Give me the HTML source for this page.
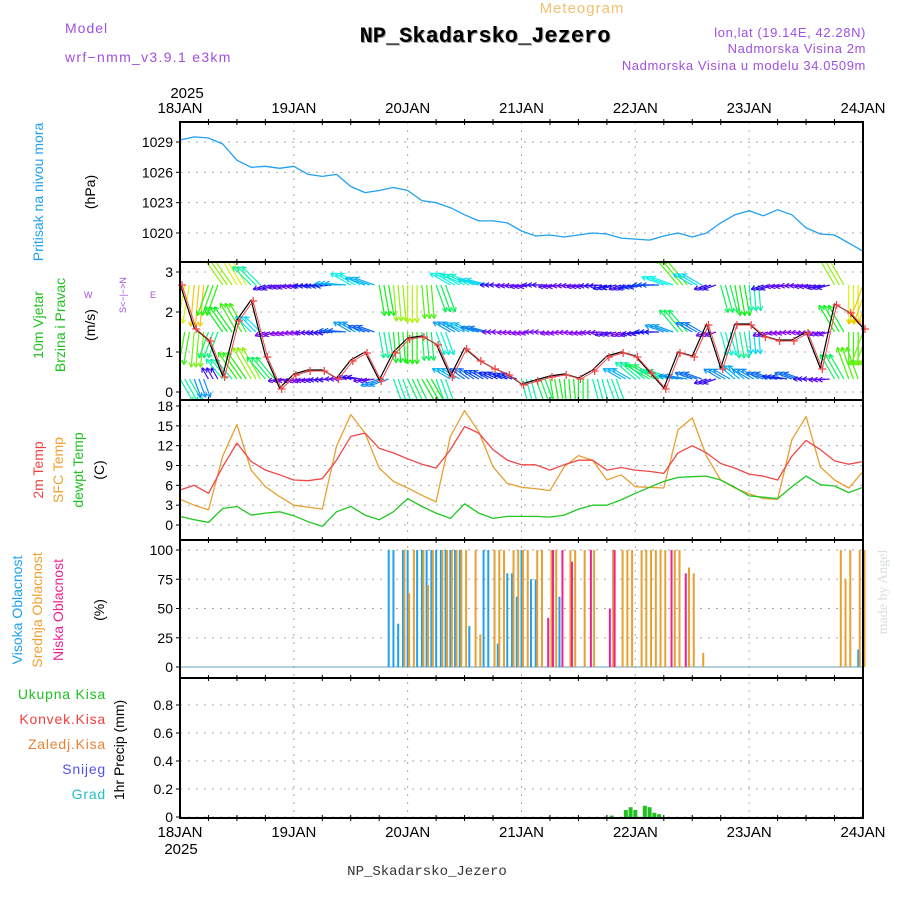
<!DOCTYPE html>
<html><head><meta charset="utf-8"><style>
html,body{margin:0;padding:0;background:#fff}
svg{display:block;font-family:"Liberation Sans",sans-serif}
</style></head><body>
<svg id="chart" width="900" height="900" viewBox="0 0 900 900" xmlns="http://www.w3.org/2000/svg">
<g>
<text x="582" y="13" text-anchor="middle" fill="#f0c070" font-size="15" letter-spacing="1">Meteogram</text>
<text x="486" y="43" text-anchor="middle" fill="#999" font-family="Liberation Mono" font-weight="bold" font-size="22">NP_Skadarsko_Jezero</text>
<text x="485" y="42" text-anchor="middle" fill="#000" font-family="Liberation Mono" font-weight="bold" font-size="22">NP_Skadarsko_Jezero</text>
<text x="65" y="33" fill="#a050e0" font-size="14" letter-spacing="1">Model</text>
<text x="65" y="62" fill="#a050e0" font-size="14" letter-spacing="1.3">wrf−nmm_v3.9.1 e3km</text>
<text x="866" y="37" text-anchor="end" fill="#a050e0" font-size="13" letter-spacing="0.6">lon,lat (19.14E, 42.28N)</text>
<text x="866" y="53" text-anchor="end" fill="#a050e0" font-size="13" letter-spacing="0.6">Nadmorska Visina 2m</text>
<text x="866" y="70" text-anchor="end" fill="#a050e0" font-size="13" letter-spacing="0.6">Nadmorska Visina u modelu 34.0509m</text>
<text x="427" y="875" text-anchor="middle" fill="#333" font-family="Liberation Mono" font-size="14">NP_Skadarsko_Jezero</text>
<text transform="translate(887,592) rotate(-90)" text-anchor="middle" fill="#d8e0d8" font-size="14" font-family="Liberation Serif">made by Angel</text>
</g>
<g id="grid"></g>
<g id="marks"></g>
<g id="axes"></g>
<g font-size="14">
<text transform="translate(43,192) rotate(-90)" text-anchor="middle" fill="#20a0f0">Pritisak na nivou mora</text>
<text transform="translate(95,192) rotate(-90)" text-anchor="middle" fill="#000">(hPa)</text>
<text transform="translate(43,325) rotate(-90)" text-anchor="middle" fill="#20c020">10m Vjetar</text>
<text transform="translate(65,325) rotate(-90)" text-anchor="middle" fill="#20c020">Brzina i Pravac</text>
<text transform="translate(95,325) rotate(-90)" text-anchor="middle" fill="#000">(m/s)</text>
<text transform="translate(126,295) rotate(-90)" text-anchor="middle" fill="#a050e0" font-size="9">S&lt;−|−&gt;N</text>
<text x="84" y="298" fill="#a050e0" font-size="9">W</text>
<text x="150" y="298" fill="#a050e0" font-size="9">E</text>
<text transform="translate(43,470) rotate(-90)" text-anchor="middle" fill="#f04040">2m Temp</text>
<text transform="translate(63,470) rotate(-90)" text-anchor="middle" fill="#f0a030">SFC Temp</text>
<text transform="translate(83,470) rotate(-90)" text-anchor="middle" fill="#20c020">dewpt Temp</text>
<text transform="translate(104,470) rotate(-90)" text-anchor="middle" fill="#000">(C)</text>
<text transform="translate(22,610) rotate(-90)" text-anchor="middle" fill="#20a0f0">Visoka Oblacnost</text>
<text transform="translate(42,610) rotate(-90)" text-anchor="middle" fill="#f0a030">Srednja Oblacnost</text>
<text transform="translate(63,610) rotate(-90)" text-anchor="middle" fill="#f02090">Niska Oblacnost</text>
<text transform="translate(104,610) rotate(-90)" text-anchor="middle" fill="#000">(%)</text>
<text x="106" y="699" text-anchor="end" fill="#20c020" letter-spacing="0.8">Ukupna Kisa</text>
<text x="106" y="724" text-anchor="end" fill="#f04040" letter-spacing="0.8">Konvek.Kisa</text>
<text x="106" y="749" text-anchor="end" fill="#f08030" letter-spacing="0.8">Zaledj.Kisa</text>
<text x="106" y="774" text-anchor="end" fill="#5050f0" letter-spacing="0.8">Snijeg</text>
<text x="106" y="799" text-anchor="end" fill="#20c0c0" letter-spacing="0.8">Grad</text>
<text transform="translate(124,750) rotate(-90)" text-anchor="middle" fill="#000">1hr Precip (mm)</text>
</g>
</svg>
<script>
const days=["18JAN","19JAN","20JAN","21JAN","22JAN","23JAN","24JAN"];
const pressure=[1029.2,1029.5,1029.4,1028.8,1027.2,1026.5,1026.6,1026.4,1026.6,1025.8,1025.6,1025.8,1024.6,1024.0,1024.2,1024.5,1024.2,1023.2,1023.0,1022.5,1021.8,1021.2,1021.2,1021.0,1020.2,1019.7,1019.8,1019.6,1019.8,1020.0,1019.9,1019.5,1019.4,1019.3,1019.7,1020.0,1019.6,1020.0,1021.0,1021.8,1022.2,1021.7,1022.3,1021.8,1020.5,1019.9,1019.8,1019.0,1018.2];
const pressureTicks=[1020,1023,1026,1029];
const windSpeed=[2.7,1.6,1.3,0.4,1.8,2.3,0.9,0.1,0.45,0.55,0.55,0.35,0.8,1.0,0.3,1.0,1.35,1.4,1.2,0.4,1.1,0.8,0.6,0.45,0.2,0.3,0.4,0.45,0.35,0.55,0.9,1.0,0.9,0.5,0.1,1.0,0.9,1.7,0.6,1.7,1.7,1.4,1.3,1.3,1.5,0.6,2.2,2.0,1.6];
const upperDir=[260,265,250,125,120,135,200,195,190,185,185,175,150,160,280,275,270,275,290,150,155,165,180,185,190,180,190,185,190,185,195,200,190,180,160,130,150,200,285,280,275,200,190,185,190,195,120,270,250];
const upperSpd=[3.0,3.2,2.5,2.8,3.0,2.0,1.0,0.9,0.9,1.1,1.2,1.6,1.8,1.6,2.4,2.8,2.9,2.6,2.2,1.8,1.9,1.7,1.0,0.9,0.9,1.0,0.9,0.9,0.9,1.0,1.1,1.0,1.2,1.3,1.8,2.6,1.7,1.0,2.2,2.4,2.0,1.0,0.9,0.9,0.9,1.0,2.8,3.0,3.2];
const lowDir=[300,290,120,130,125,120,130,190,195,190,185,180,170,190,200,290,295,300,290,150,145,150,155,160,285,290,280,275,270,285,290,150,140,150,160,170,160,200,150,140,150,160,170,160,180,185,120,110,280];
const lowSpd=[2.0,1.5,1.0,2.0,2.5,2.8,2.2,0.9,0.8,0.9,1.0,0.9,1.0,0.9,1.5,2.0,2.2,2.4,2.0,1.6,1.4,1.3,1.2,1.2,2.0,2.2,2.4,2.4,2.3,2.0,2.0,1.6,2.0,2.2,2.0,1.5,1.4,1.0,1.5,1.6,1.5,1.4,1.2,1.4,1.0,0.9,2.2,2.6,3.0];
const windTicks=[0,1,2,3];
const temp2m=[5.3,6.0,4.8,8.8,12.4,9.6,8.3,7.6,6.8,6.7,7.0,9.8,13.4,13.9,11.6,10.9,10.0,9.2,8.6,11.4,14.9,13.9,11.4,9.8,9.1,9.1,8.3,9.1,9.8,9.8,8.3,8.7,8.3,8.1,7.8,10.9,12.0,10.9,9.3,8.6,7.7,7.4,6.8,10.4,12.8,11.4,9.7,9.2,9.6];
const tempSfc=[3.9,3.0,2.3,10.4,15.2,8.3,5.8,4.3,3.0,2.7,2.4,11.9,16.7,13.9,8.6,6.6,5.6,4.5,3.5,13.4,17.3,14.1,8.8,6.3,5.7,5.5,5.2,8.8,10.5,9.8,6.8,7.6,5.8,5.7,5.6,14.4,16.2,10.4,6.8,5.6,4.7,4.0,3.9,12.9,16.4,8.8,6.8,5.6,8.1];
const tempDew=[1.3,0.8,0.4,2.5,2.8,1.5,1.8,2.0,1.4,0.5,-0.2,2.0,2.8,1.5,0.8,2.0,4.0,2.8,1.8,1.0,3.2,1.8,1.0,1.3,1.3,1.3,1.2,1.5,2.4,3.0,3.0,3.8,4.8,5.7,6.6,7.2,7.3,7.4,6.8,5.7,4.4,4.2,4.0,5.8,7.4,6.1,5.9,4.9,5.7];
const tempTicks=[0,3,6,9,12,15,18];
const highCloud=[[44,100],[45,100],[46,37],[47,100],[48,100],[50,100],[51,100],[52,100],[53,100],[54,100],[55,100],[56,100],[57,100],[58,100],[59,100],[61,35],[64,100],[65,100],[67,20],[69,80],[70,80],[71,60],[72,100],[74,75],[75,75],[80,60],[143,15]];
const midCloud=[[47,100],[48,63],[49,100],[51,100],[52,70],[53,100],[55,100],[56,100],[57,100],[58,100],[59,100],[60,100],[62,100],[63,28],[66,100],[67,100],[68,100],[70,100],[71,100],[72,100],[73,100],[75,100],[76,100],[78,100],[79,100],[82,100],[83,100],[85,100],[87,100],[91,100],[93,100],[94,100],[95,100],[97,100],[98,100],[99,100],[100,100],[101,100],[102,100],[104,100],[105,100],[107,85],[108,80],[110,12],[139,100],[140,75],[141,100],[143,100],[144,100]];
const lowCloud=[[77,42],[78,100],[80,100],[82,90],[86,100],[90,50],[91,100],[103,100],[106,80]];
const cloudTicks=[0,25,50,75,100];
const precip=[[91,0.01],[94,0.05],[95,0.07],[96,0.05],[98,0.08],[99,0.07],[100,0.03],[101,0.02]];
const precipTicks=[0,0.2,0.4,0.6,0.8];

const NS="http://www.w3.org/2000/svg";
const L=180,R=863;
const X=h=>L+h*(R-L)/144;
function lin(d0,d1,r0,r1){return v=>r0+(v-d0)*(r1-r0)/(d1-d0);}
const yP=lin(1020,1029,233,142), yW=lin(0,3,392,272), yT=lin(0,18,525,406), yC=lin(0,100,667,550), yR=lin(0,0.8,817,705);
function mk(tag,attrs,parent){const e=document.createElementNS(NS,tag);for(const k in attrs)e.setAttribute(k,attrs[k]);parent.appendChild(e);return e;}
const grid=document.getElementById('grid'),marks=document.getElementById('marks'),axes=document.getElementById('axes');
const panels=[[122,262],[262,400],[400,540],[540,678],[678,818]];
const defs=mk('defs',{},marks);
const cp=mk('clipPath',{id:'plotclip'},defs);mk('rect',{x:L,y:262,width:R-L,height:138},cp);
days.forEach((d,i)=>{const x=X(i*24);
 if(i>0&&i<6){const g=mk('line',{x1:x,x2:x,y1:122,y2:818,stroke:'#aaa','stroke-dasharray':'2,6'},grid);
 }
 const t1=mk('text',{x:x,y:113,'text-anchor':'middle','font-size':15,fill:'#000'},axes);t1.textContent=d;
 
 const t2=mk('text',{x:x,y:837,'text-anchor':'middle','font-size':15,fill:'#000'},axes);t2.textContent=d;
 
 for(let k=1;k<4&&i<6;k++){[122,262,400,540,678,818].forEach(y=>{const tk=mk('line',{x1:X(i*24+k*6),x2:X(i*24+k*6),y1:y-3,y2:y+3,stroke:'#000'},axes);});}
});
[['2025',187,98],['2025',181,854]].forEach(a=>{const t=mk('text',{x:a[1],y:a[2],'text-anchor':'middle','font-size':15},axes);t.textContent=a[0];});
function yAxis(ticks,fy,fmt,name){ticks.forEach(v=>{const y=fy(v);
 const g=mk('line',{x1:L,x2:R,y1:y,y2:y,stroke:'#aaa','stroke-dasharray':'2,6'},grid);
 const tk=mk('line',{x1:L-4,x2:L,y1:y,y2:y,stroke:'#000'},axes);
 const t=mk('text',{x:L-7,y:y+5,'text-anchor':'end','font-size':14},axes);t.textContent=fmt(v);});}
yAxis(pressureTicks,yP,v=>v,'pressure');yAxis(windTicks,yW,v=>v,'wind');yAxis(tempTicks,yT,v=>v,'temp');yAxis(cloudTicks,yC,v=>v,'cloud');yAxis(precipTicks,yR,v=>v===0?'0':v.toFixed(1),'precip');
panels.forEach(p=>{const r=mk('rect',{x:L,y:p[0],width:R-L,height:p[1]-p[0],fill:'none',stroke:'#000','stroke-width':2},axes);});
function line(arr,fy,color,name,w){const pts=arr.map((v,i)=>X(i*3).toFixed(1)+','+fy(v).toFixed(1)).join(' ');
 const e=mk('polyline',{points:pts,fill:'none',stroke:color,'stroke-width':w||1.3,'stroke-linejoin':'round'},marks);return e;}
line(pressure,yP,'#20a0f0','pressure-line');
const wg=mk('g',{'clip-path':'url(#plotclip)'},marks);
function arrows(dir,spd,base,name){dir.forEach((d,i)=>{const s=spd[i];const hue=Math.max(25,Math.min(275,270-(s-0.8)/2.6*240));const col='hsl('+hue+',90%,50%)';
 for(let k=0;k<3;k++){const x0=X(i*3)+k*4.7,y0=base;const a=d*Math.PI/180,len=s*13;const x1=x0+Math.cos(a)*len,y1=y0-Math.sin(a)*len;
 const g=mk('g',{stroke:col,'stroke-width':1.2,fill:'none'},wg);
 mk('line',{x1:x0,y1:y0,x2:x1,y2:y1},g);
 [0.5,-0.5].forEach(o=>{const b=a+Math.PI+o;mk('line',{x1:x1,y1:y1,x2:x1+Math.cos(b)*5,y2:y1-Math.sin(b)*5},g);});}});}
arrows(upperDir,upperSpd,285,'wind-arrow-upper');arrows(upperDir,upperSpd.map(v=>v*0.85),332,'wind-arrow-mid');arrows(lowDir,lowSpd,379,'wind-arrow-low');
line(windSpeed,yW,'#000','wind-speed-line',1.2);
line(windSpeed,yW,'#f04848','wind-gust-line',1).setAttribute('transform','translate(2,1)');
windSpeed.forEach((v,i)=>{const x=X(i*3)+2,y=yW(v)+1;const c=mk('path',{d:`M${x-4},${y}H${x+4}M${x},${y-4}V${y+4}`,stroke:'#f04848','stroke-width':1.3},marks);});
line(tempSfc,yT,'#e8a030','sfc-temp-line');line(temp2m,yT,'#f04848','temp-2m-line');line(tempDew,yT,'#20c820','dewpoint-line');
const base=mk('line',{x1:L,x2:R,y1:yC(0),y2:yC(0),stroke:'#6aa0c0','stroke-width':1},marks);
function bars(arr,color,off,name){arr.forEach(p=>{const x=X(p[0])+off;const b=mk('line',{x1:x,x2:x,y1:yC(0),y2:yC(p[1]),stroke:color,'stroke-width':2},marks);});}
bars(highCloud,'#20a0f0',0,'high-cloud-bar');bars(midCloud,'#e8a030',1.5,'mid-cloud-bar');bars(lowCloud,'#f02090',3,'low-cloud-bar');
precip.forEach(p=>{const x=X(p[0]);const b=mk('rect',{x:x-2,y:yR(p[1]),width:4,height:yR(0)-yR(p[1]),fill:'#20c020'},marks);});
</script>
</body></html>
